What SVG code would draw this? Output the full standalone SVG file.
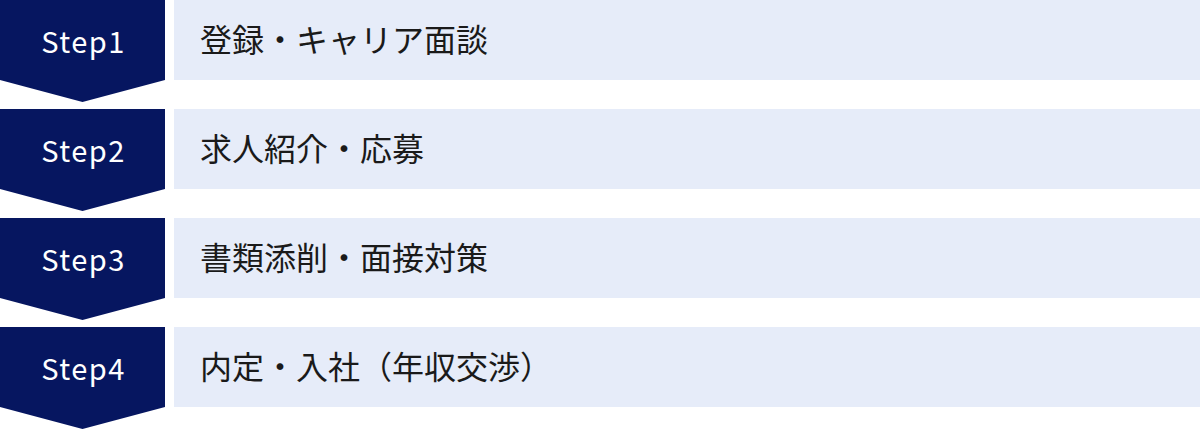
<svg xmlns="http://www.w3.org/2000/svg" width="1200" height="429" viewBox="0 0 1200 429">
<defs>
<style>
.badge{fill:#061660}
.bar{fill:#e6ecf9}
.step{font-family:"Noto Sans CJK JP","Noto Sans",sans-serif;font-size:29px;fill:#ffffff;text-anchor:middle;letter-spacing:1.5px}
.label{font-family:"Noto Sans CJK JP","Noto Sans",sans-serif;font-size:32px;fill:#1a1a1a}
</style>
<polygon id="chev" points="0,0 165,0 165,80 82.5,102 0,80"/>
</defs>
<rect width="1200" height="429" fill="#ffffff"/>
<g id="connectors"></g>
<g id="step1">
<use href="#chev" class="badge"/>
<rect class="bar" x="174" y="0" width="1026" height="80"/>
<text class="step" x="83.5" y="53">Step1</text>
<text class="label" x="200" y="52">登録・キャリア面談</text>
</g>
<g id="step2" transform="translate(0,109)">
<use href="#chev" class="badge"/>
<rect class="bar" x="174" y="0" width="1026" height="80"/>
<text class="step" x="83.5" y="53">Step2</text>
<text class="label" x="200" y="52">求人紹介・応募</text>
</g>
<g id="step3" transform="translate(0,218)">
<use href="#chev" class="badge"/>
<rect class="bar" x="174" y="0" width="1026" height="80"/>
<text class="step" x="83.5" y="53">Step3</text>
<text class="label" x="200" y="52">書類添削・面接対策</text>
</g>
<g id="step4" transform="translate(0,327)">
<use href="#chev" class="badge"/>
<rect class="bar" x="174" y="0" width="1026" height="80"/>
<text class="step" x="83.5" y="53">Step4</text>
<text class="label" x="200" y="52">内定・入社（年収交渉）</text>
</g>
</svg>
